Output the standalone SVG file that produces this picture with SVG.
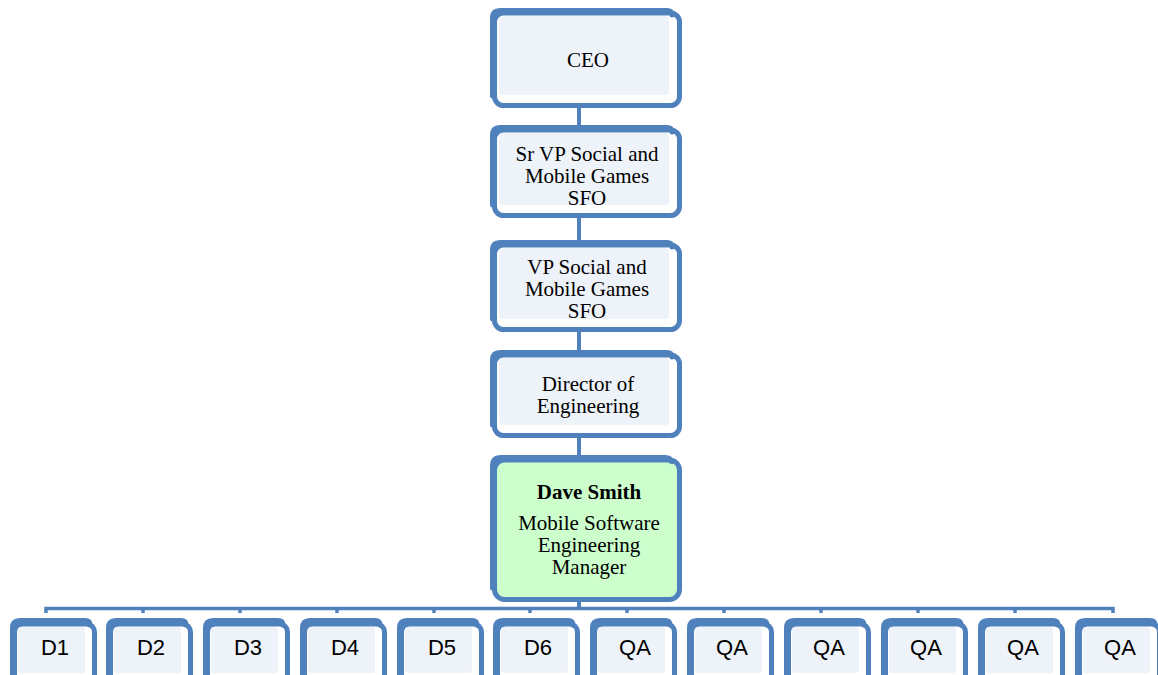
<svg xmlns="http://www.w3.org/2000/svg" width="1158" height="675" viewBox="0 0 1158 675">
<style>
.st{fill:none;stroke:#4F81BD;stroke-width:5;stroke-linecap:round}
.fr{fill:#FFFFFF;stroke:#4F81BD;stroke-width:5}
.in{fill:#EEF2F9}
.g{fill:#CCFFCC}
.t{font-family:"Liberation Serif",serif;font-size:21px;fill:#000;text-anchor:middle}
.b{font-weight:bold}
.s{font-family:"Liberation Sans",Arial,sans-serif;font-size:22px;fill:#000;text-anchor:middle}
.c{fill:none;stroke:#4F81BD;stroke-width:4}
</style>
<rect width="1158" height="675" fill="#FFFFFF"/>
<g id="connectors">
<path class="c" d="M579 104V127M579 216V242M579 330V352M579 436V457M579 600V608"/>
<path fill="none" stroke="#4F81BD" stroke-width="3.5" d="M46 613V608.5H1113V613"/>
<path fill="none" stroke="#4F81BD" stroke-width="3.5" d="M143 608V613M240 608V613M337 608V613M434 608V613M530 608V613M627 608V613M724 608V613M821 608V613M918 608V613M1015 608V613"/>
</g>
<g id="ceo">
<rect class="fr" x="494.5" y="13" width="185" height="92.5" rx="9"/>
<path class="st" d="M492.5 96V18Q492.5 10.5 500 10.5H667Q672 10.5 672 15"/>
<rect class="in" x="499" y="16" width="170" height="79" rx="4"/>
<text class="t" x="588" y="67">CEO</text>
</g>
<g id="srvp">
<rect class="fr" x="494.5" y="130" width="185" height="85.5" rx="9"/>
<path class="st" d="M492.5 205V135Q492.5 127.5 500 127.5H667Q672 127.5 672 132"/>
<rect class="in" x="499" y="133" width="170" height="72" rx="4"/>
<text class="t" x="587" y="161">Sr VP Social and</text>
<text class="t" x="587" y="183">Mobile Games</text>
<text class="t" x="587" y="205">SFO</text>
</g>
<g id="vp">
<rect class="fr" x="494.5" y="245" width="185" height="84.5" rx="9"/>
<path class="st" d="M492.5 319V250Q492.5 242.5 500 242.5H667Q672 242.5 672 247"/>
<rect class="in" x="499" y="248" width="170" height="71" rx="4"/>
<text class="t" x="587" y="274">VP Social and</text>
<text class="t" x="587" y="296">Mobile Games</text>
<text class="t" x="587" y="318">SFO</text>
</g>
<g id="director">
<rect class="fr" x="494.5" y="355" width="185" height="80.5" rx="9"/>
<path class="st" d="M492.5 425V360Q492.5 352.5 500 352.5H667Q672 352.5 672 357"/>
<rect class="in" x="499" y="358" width="170" height="67" rx="4"/>
<text class="t" x="588" y="391">Director of</text>
<text class="t" x="588" y="413">Engineering</text>
</g>
<g id="dave">
<rect class="fr" x="494.5" y="460" width="185" height="139.5" rx="10" style="fill:#CCFFCC"/>
<path class="st" d="M492.5 588V466Q492.5 457.5 501 457.5H665Q671 457.5 671 462"/>
<rect class="g" x="499" y="463" width="175" height="133" rx="6"/>
<text class="t b" x="589" y="499">Dave Smith</text>
<text class="t" x="589" y="530">Mobile Software</text>
<text class="t" x="589" y="552">Engineering</text>
<text class="t" x="589" y="574">Manager</text>
</g>
<defs>
<g id="bx">
<rect class="fr" x="-40.5" y="624" width="80" height="70" rx="8"/>
<path class="st" d="M-42.5 676V628Q-42.5 620.5 -35 620.5H30Q35 620.5 35 625"/>
<rect class="in" x="-37" y="627" width="67" height="46" rx="3"/>
</g>
</defs>
<g id="d1"><use href="#bx" x="55"/><text class="s" x="55" y="655">D1</text></g>
<g id="d2"><use href="#bx" x="151"/><text class="s" x="151" y="655">D2</text></g>
<g id="d3"><use href="#bx" x="248"/><text class="s" x="248" y="655">D3</text></g>
<g id="d4"><use href="#bx" x="345"/><text class="s" x="345" y="655">D4</text></g>
<g id="d5"><use href="#bx" x="442"/><text class="s" x="442" y="655">D5</text></g>
<g id="d6"><use href="#bx" x="538"/><text class="s" x="538" y="655">D6</text></g>
<g id="qa1"><use href="#bx" x="635"/><text class="s" x="635" y="655">QA</text></g>
<g id="qa2"><use href="#bx" x="732"/><text class="s" x="732" y="655">QA</text></g>
<g id="qa3"><use href="#bx" x="829"/><text class="s" x="829" y="655">QA</text></g>
<g id="qa4"><use href="#bx" x="926"/><text class="s" x="926" y="655">QA</text></g>
<g id="qa5"><use href="#bx" x="1023"/><text class="s" x="1023" y="655">QA</text></g>
<g id="qa6"><use href="#bx" x="1120"/><text class="s" x="1120" y="655">QA</text></g>
</svg>
